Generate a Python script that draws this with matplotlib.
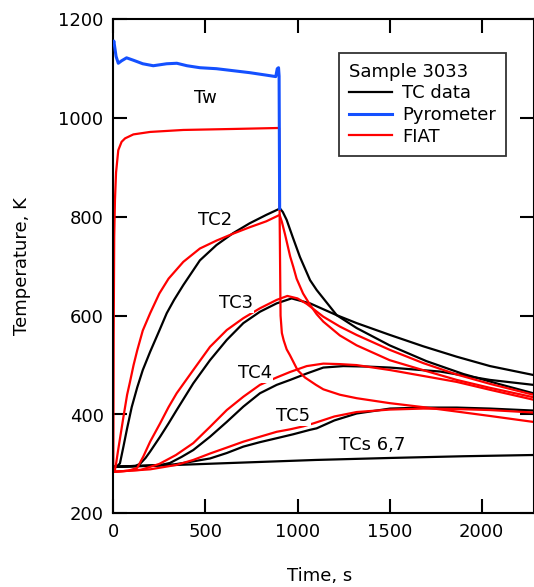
import matplotlib
matplotlib.use('Agg')
import matplotlib.pyplot as plt

# ---- data (time in s, temperature in K) ----
PYRO_T = [0, 3, 15, 27, 45, 72, 110, 160, 217, 290, 345, 400, 470, 560, 650, 740, 830, 882, 890, 897, 900, 903]
PYRO_K = [1150, 1156, 1125, 1111, 1116, 1122, 1117, 1110, 1106, 1110, 1111, 1106, 1102, 1100, 1096, 1092, 1087, 1084, 1100, 1102, 1085, 817]

# FIAT wall temperature
FTW_T = [0, 2, 5, 9, 15, 27, 45, 64, 109, 200, 380, 650, 900, 903, 908, 915, 925, 941, 959, 1000, 1040, 1100, 1140, 1230, 1321, 1500, 1680, 1864, 2045, 2280]
FTW_K = [284, 560, 760, 834, 890, 935, 952, 959, 967, 972, 976, 978, 980, 800, 600, 565, 550, 532, 520, 490, 475, 460, 451, 440, 433, 423, 415, 406, 397, 385]

# TC2
TC2_T = [0, 20, 36, 55, 75, 100, 130, 160, 200, 250, 290, 330, 380, 470, 560, 650, 740, 830, 905, 920, 941, 975, 1013, 1068, 1104, 1213, 1321, 1500, 1700, 1900, 2100, 2280]
TC2_K = [294, 295, 301, 335, 372, 415, 455, 490, 527, 570, 605, 632, 662, 712, 743, 767, 787, 804, 817, 810, 794, 758, 719, 672, 652, 601, 575, 540, 508, 482, 461, 443]
F2_T = [0, 8, 15, 25, 40, 55, 75, 90, 110, 130, 160, 200, 250, 300, 380, 470, 560, 650, 740, 830, 903, 915, 932, 960, 977, 995, 1030, 1068, 1104, 1140, 1230, 1321, 1500, 1680, 1864, 2045, 2280]
F2_K = [284, 286, 300, 325, 360, 395, 440, 465, 500, 530, 570, 605, 645, 675, 709, 736, 752, 766, 779, 791, 804, 790, 765, 720, 699, 675, 645, 622, 603, 588, 560, 540, 510, 490, 470, 454, 435]

# TC3
TC3_T = [0, 120, 145, 175, 200, 254, 300, 344, 434, 525, 616, 706, 796, 887, 968, 1068, 1213, 1321, 1502, 1683, 1864, 2045, 2280]
TC3_K = [294, 296, 300, 312, 325, 355, 382, 409, 463, 510, 551, 585, 608, 625, 635, 625, 601, 585, 561, 538, 517, 498, 480]
F3_T = [0, 80, 130, 163, 200, 254, 300, 344, 434, 525, 616, 706, 796, 887, 945, 1000, 1050, 1140, 1230, 1321, 1500, 1683, 1864, 2045, 2280]
F3_K = [284, 286, 292, 315, 345, 382, 415, 443, 490, 537, 571, 595, 615, 632, 640, 635, 624, 598, 578, 561, 531, 504, 481, 462, 440]

# TC4
TC4_T = [0, 250, 308, 370, 434, 525, 616, 706, 796, 887, 960, 1050, 1140, 1249, 1380, 1502, 1773, 2045, 2280]
TC4_K = [294, 297, 302, 314, 328, 355, 385, 416, 443, 460, 470, 483, 495, 498, 497, 495, 487, 470, 460]
F4_T = [0, 150, 250, 340, 434, 525, 616, 706, 796, 887, 959, 1050, 1140, 1230, 1321, 1502, 1683, 1864, 2045, 2280]
F4_K = [284, 288, 300, 318, 342, 375, 409, 436, 460, 475, 486, 498, 503, 502, 500, 490, 478, 466, 450, 430]

# TC5
TC5_T = [0, 330, 400, 525, 616, 706, 796, 887, 977, 1068, 1104, 1200, 1321, 1502, 1683, 1864, 2045, 2280]
TC5_K = [294, 299, 303, 311, 322, 335, 344, 352, 360, 369, 372, 388, 402, 412, 414, 414, 412, 408]
F5_T = [0, 200, 344, 434, 525, 616, 706, 796, 887, 960, 1031, 1086, 1200, 1321, 1502, 1683, 1864, 2045, 2280]
F5_K = [284, 289, 298, 308, 321, 333, 345, 355, 365, 370, 376, 382, 396, 405, 410, 412, 411, 409, 404]

# TCs 6,7
TC67_T = [0, 200, 500, 800, 1100, 1500, 1900, 2280]
TC67_K = [294, 296, 300, 304, 308, 312, 315.5, 318]

LABELS = ['Tw', 'TC2', 'TC3', 'TC4', 'TC5', 'TCs 6,7']
LABEL_T = [498, 552, 666, 770, 977, 1407]
LABEL_K = [1041, 794, 625, 484, 397, 338]

BLUE = '#1450ff'
RED = '#ff0000'
LW = 1.6
FS = 13

plt.rcParams['font.family'] = ['DejaVu Sans']
plt.rcParams['font.size'] = FS

fig = plt.figure(figsize=(5.34, 5.87), dpi=100)
ax = fig.add_axes([113.3/534, (587-513.3)/587, (533.5-113.3)/534, (513.3-19.3)/587])

# thermocouple data
ax.plot(TC2_T, TC2_K, color='black', lw=LW, label='TC data', zorder=2)
ax.plot(TC3_T, TC3_K, color='black', lw=LW, zorder=2)
ax.plot(TC4_T, TC4_K, color='black', lw=LW, zorder=2)
ax.plot(TC5_T, TC5_K, color='black', lw=LW, zorder=2)
ax.plot(TC67_T, TC67_K, color='black', lw=LW, zorder=2)

# pyrometer
ax.plot(PYRO_T, PYRO_K, color=BLUE, lw=LW + 0.6, label='Pyrometer', zorder=3)

# FIAT
ax.plot(FTW_T, FTW_K, color=RED, lw=LW, label='FIAT', zorder=2.5)
ax.plot(F2_T, F2_K, color=RED, lw=LW, zorder=2.5)
ax.plot(F3_T, F3_K, color=RED, lw=LW, zorder=2.5)
ax.plot(F4_T, F4_K, color=RED, lw=LW, zorder=2.5)
ax.plot(F5_T, F5_K, color=RED, lw=LW, zorder=2.5)

for lab, t, k in zip(LABELS, LABEL_T, LABEL_K):
    ax.text(t, k, lab, ha='center', va='center', fontsize=FS, zorder=4,
            bbox=dict(facecolor='white', edgecolor='none', pad=0.6))

ax.set_xlim(0, 2281)
ax.set_ylim(200, 1200)
ax.set_xticks([0, 500, 1000, 1500, 2000])
ax.set_yticks([200, 400, 600, 800, 1000, 1200])
ax.tick_params(direction='in', length=10, width=1.5, top=True, right=True,
               labelsize=FS, pad=7)
for s in ax.spines.values():
    s.set_linewidth(1.5)

ax.set_xlabel('Time, s', fontsize=FS)
ax.set_ylabel('Temperature, K', fontsize=FS)
ax.xaxis.set_label_coords(0.49, -0.108)
ax.yaxis.set_label_coords(-0.196, 0.5)

leg = ax.legend(title='Sample 3033', loc='upper right', bbox_to_anchor=(0.934, 0.932),
                borderaxespad=0, frameon=True, fancybox=False, fontsize=FS,
                title_fontsize=FS, handlelength=2.4, handletextpad=0.55,
                labelspacing=0.2, borderpad=0.55, alignment='left')
leg.get_frame().set_edgecolor('black')
leg.get_frame().set_linewidth(1.3)

fig.savefig('out.png', dpi=100)
